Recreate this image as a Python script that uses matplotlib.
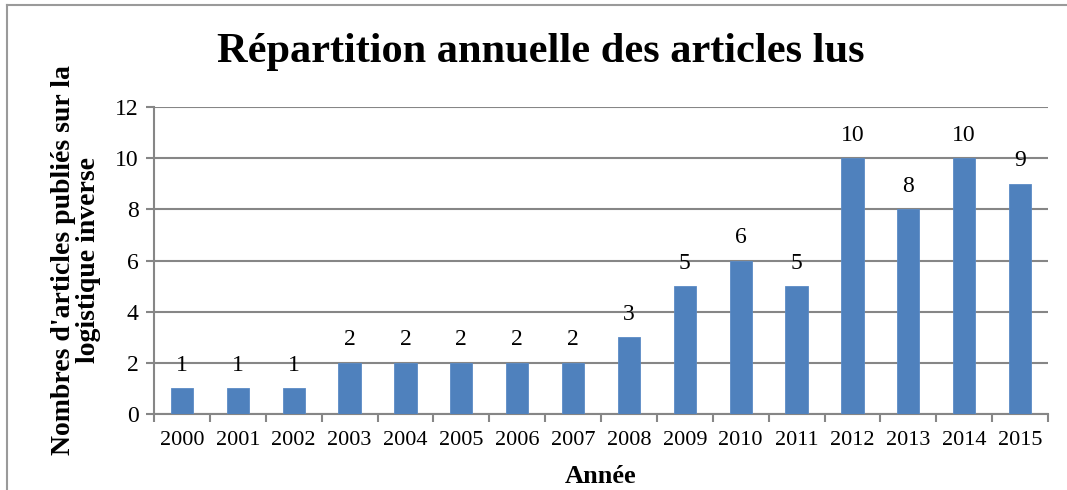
import matplotlib.pyplot as plt
from matplotlib.lines import Line2D

years = ['2000', '2001', '2002', '2003', '2004', '2005', '2006', '2007',
         '2008', '2009', '2010', '2011', '2012', '2013', '2014', '2015']
counts = [1, 1, 1, 2, 2, 2, 2, 2, 3, 5, 6, 5, 10, 8, 10, 9]

title = "Répartition annuelle des articles lus"
ylabel = "Nombres d'articles publiés sur la\nlogistique inverse"
xlabel = "Année"

W, H = 1067, 490
plt.rcParams['font.family'] = ['Liberation Serif', 'DejaVu Serif']
grey = '#868686'

fig = plt.figure(figsize=(W / 100, H / 100), dpi=100)
ax = fig.add_axes([154 / W, 1 - 414 / H, (1048 - 154) / W, (414 - 107) / H])

x = list(range(len(years)))
bars = ax.bar(x, counts, width=0.4, color='#4F81BD', edgecolor='#5B8BC6',
              linewidth=0.6, zorder=3)
for xi, v in zip(x, counts):
    ax.annotate(str(v), (xi, v), xytext=(0, 9), textcoords='offset points',
                ha='center', va='bottom', fontsize=17, zorder=4)

ax.set_xlim(-0.5, len(years) - 0.5)
ax.set_ylim(0, 12)
ax.set_yticks(range(0, 13, 2))
ax.set_xticks(x)
ax.set_xticklabels(years)
ax.set_xticks([i - 0.5 for i in range(len(years) + 1)], minor=True)
ax.tick_params(axis='x', which='major', length=0, labelsize=16, pad=12)
ax.tick_params(axis='x', which='minor', length=6, width=1.5, color=grey)
ax.tick_params(axis='y', length=6, width=1.5, color=grey, labelsize=17, pad=5)
ax.grid(axis='y', color=grey, linewidth=1.5, zorder=0)
ax.set_axisbelow(True)
for side in ['top', 'right']:
    ax.spines[side].set_visible(False)
for side in ['left', 'bottom']:
    ax.spines[side].set_color(grey)
    ax.spines[side].set_linewidth(1.5)

fig.text(601 / W, 1 - 476 / H, xlabel, ha='center', va='center',
         fontsize=19, fontweight='bold')
fig.text(76 / W, 1 - 260 / H, ylabel, rotation=90, ha='center', va='center',
         fontsize=20, fontweight='bold', linespacing=1.0)
fig.text(541 / W, 1 - 52 / H, title, ha='center', va='center',
         fontsize=30.5, fontweight='bold')

# outer chart border (left and top edges visible)
fig.add_artist(Line2D([7 / W, 7 / W], [0, 1 - 5 / H], color='#9a9a9a', lw=1.5,
                      transform=fig.transFigure))
fig.add_artist(Line2D([7 / W, 1], [1 - 5 / H, 1 - 5 / H], color='#9a9a9a', lw=1.5,
                      transform=fig.transFigure))

fig.savefig('out.png', dpi=100)
plt.close()
